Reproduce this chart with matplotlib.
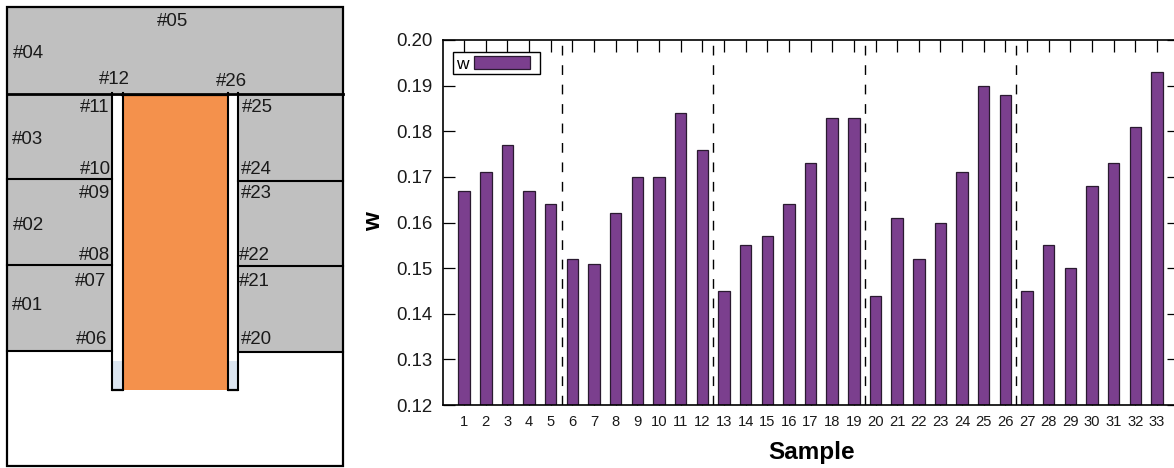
import numpy as np
import matplotlib
matplotlib.use("Agg")
import matplotlib.pyplot as plt
from matplotlib.patches import Rectangle
from matplotlib.transforms import IdentityTransform

plt.rcParams["font.family"] = ["Liberation Sans", "DejaVu Sans"]

samples = np.arange(1, 34)
w_values = [0.167, 0.171, 0.177, 0.167, 0.164, 0.152, 0.151, 0.162, 0.170, 0.170, 0.184,
            0.176, 0.145, 0.155, 0.157, 0.164, 0.173, 0.183, 0.183, 0.144, 0.161, 0.152,
            0.160, 0.171, 0.190, 0.188, 0.145, 0.155, 0.150, 0.168, 0.173, 0.181, 0.193]
group_breaks = [5.5, 12.5, 19.5, 26.5]
y_ticks = [0.12, 0.13, 0.14, 0.15, 0.16, 0.17, 0.18, 0.19, 0.20]

# sensor labels of the schematic, (name, x px, y px)
sensor_labels = [
    ("#05", 173, 21), ("#04", 28, 53), ("#12", 114, 80), ("#26", 231, 81),
    ("#11", 95, 108), ("#03", 28, 139), ("#10", 95, 169), ("#09", 95, 194),
    ("#02", 28, 226), ("#08", 94, 255), ("#07", 91, 281), ("#01", 27, 306),
    ("#06", 92, 340), ("#25", 257, 108), ("#24", 256, 169), ("#23", 256, 194),
    ("#22", 254, 255), ("#21", 254, 281), ("#20", 256, 340),
]

GREY = "#c0c0c0"
ORANGE = "#f4914c"
WATER = "#dce6f1"
PURPLE = "#7b3f8e"

W, H = 1174, 468
fig = plt.figure(figsize=(W / 100, H / 100), dpi=100)

# schematic on the left, drawn in pixel coordinates
ax = fig.add_axes([0, 0, 350 / W, 1])
ax.set_xlim(0, 350)
ax.set_ylim(H, 0)
ax.axis("off")

ax.add_patch(Rectangle((7, 7), 336, 459, fc="white", ec="none"))
ax.add_patch(Rectangle((7, 7), 336, 86, fc=GREY, ec="none"))
ax.add_patch(Rectangle((7, 93), 105, 258, fc=GREY, ec="none"))
ax.add_patch(Rectangle((238, 93), 105, 259, fc=GREY, ec="none"))
ax.add_patch(Rectangle((123, 95), 105, 295, fc=ORANGE, ec="none"))
ax.add_patch(Rectangle((113, 361), 9, 29, fc=WATER, ec="none"))
ax.add_patch(Rectangle((229, 361), 8, 29, fc=WATER, ec="none"))

ax.add_patch(Rectangle((7, 7), 336, 459, fc="none", ec="black", lw=1.6))
ax.plot([7, 343], [93.5, 93.5], color="black", lw=2.0)
ax.plot([122, 228], [95, 95], color="black", lw=1.6)
for y in [179, 265, 351]:
    ax.plot([7, 112], [y, y], color="black", lw=1.5)
for y in [180.5, 266, 352]:
    ax.plot([238, 343], [y, y], color="black", lw=1.5)
for x in [112, 122.5, 228, 238]:
    ax.plot([x, x], [93, 390], color="black", lw=1.5)
ax.plot([112, 122.5], [390, 390], color="black", lw=1.6, solid_capstyle="round")
ax.plot([228, 238], [390, 390], color="black", lw=1.6, solid_capstyle="round")

for name, x, y in sensor_labels:
    ax.text(x, y, name, fontsize=13.4, ha="center", va="center", color="#1a1a1a")

# bar chart on the right, runs off the edge of the figure like the original
left, right, top, bottom = 442.5, 1178.6, 40, 405
ax2 = fig.add_axes([left / W, 1 - bottom / H, (right - left) / W, (bottom - top) / H])
ax2.set_axisbelow(True)
ax2.bar(samples, w_values, width=0.53, bottom=0, color=PURPLE, edgecolor="#2a1a30",
        linewidth=0.9, label="w")
for x in group_breaks:
    ax2.plot([x, x], [0.12, 0.20], color="black", lw=1.0, dashes=(7, 7), zorder=3)

ax2.set_xlim(0, 34)
ax2.set_ylim(0.12, 0.20)
ax2.set_xticks(samples)
ax2.set_yticks(y_ticks)
ax2.set_yticklabels(["%.2f" % v for v in y_ticks], fontsize=13.4, color="#1a1a1a")
ax2.tick_params(axis="x", direction="in", length=8.6, width=0.9, top=True, labelsize=10.6,
                pad=7, labelcolor="#1a1a1a")
ax2.tick_params(axis="y", direction="in", length=8.6, width=0.9, right=True, pad=7)
for s in ax2.spines.values():
    s.set_linewidth(1.2)

fig.text(812 / W, 1 - 452 / H, "Sample", fontsize=17.5, fontweight="bold", ha="center", va="center")
fig.text(374 / W, 1 - 222 / H, "w", fontsize=17.5, fontweight="bold", rotation=90, ha="center", va="center")

leg = ax2.legend(loc="upper left", bbox_to_anchor=((453 - left) / (right - left), 1 - (53 - top) / (bottom - top)),
                 markerfirst=False, frameon=False, fontsize=12.5,
                 handlelength=3.2, handleheight=0.7, handletextpad=0.3, borderpad=0.2, borderaxespad=0)
# legend box is wider than the entries, so it gets its own frame
fig.add_artist(Rectangle((453, H - 74), 87, 22, fc="none", ec="black", lw=1.0, transform=IdentityTransform()))

fig.savefig("out.png", dpi=100)
